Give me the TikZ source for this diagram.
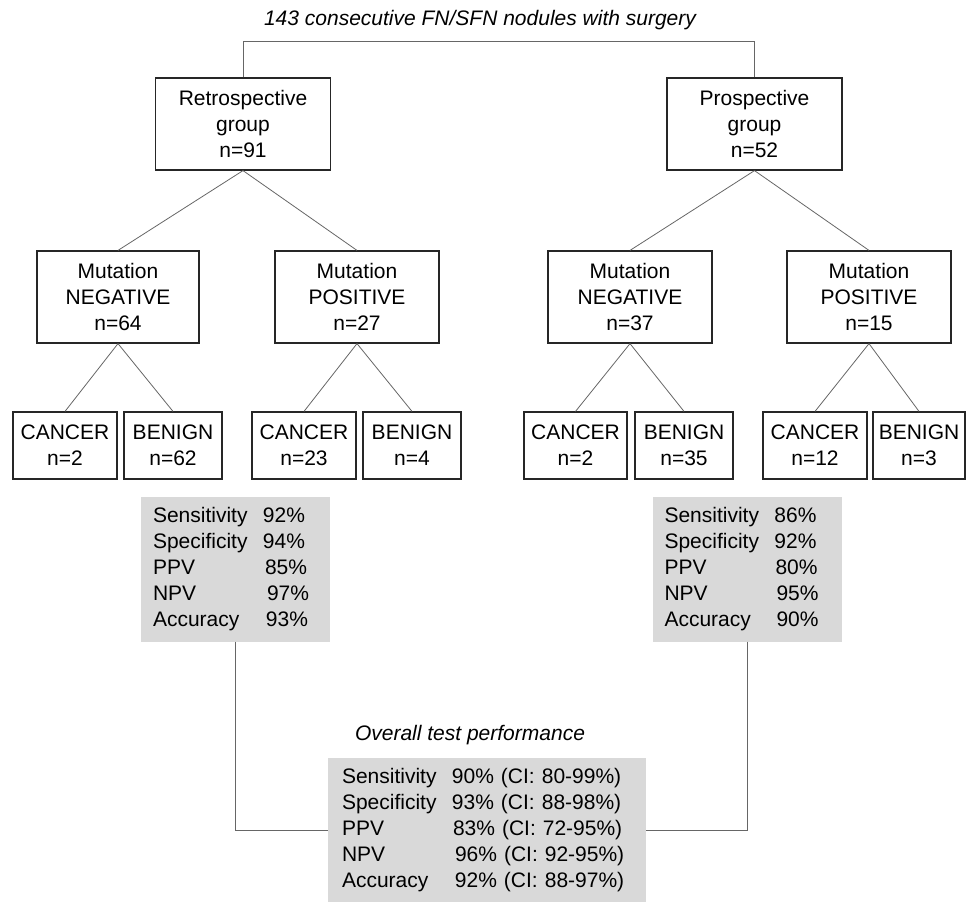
\documentclass[tikz,border=0pt]{standalone}
\usepackage{fontspec}
\setmainfont{Liberation Sans}
\usepackage{xcolor}
\usepackage{tikz}
\usetikzlibrary{positioning}

\newcommand{\srow}[2]{\makebox[110pt][l]{#1}#2}

\begin{document}
\begin{tikzpicture}[
  x=1pt, y=-1pt,
  font=\fontsize{21}{26}\selectfont,
  bx/.style={draw=black!85, line width=1.2pt, align=center, inner sep=0pt, minimum height=92pt},
  lf/.style={bx, minimum height=67pt},
  sb/.style={fill=black!15, align=left, inner xsep=12pt, inner ysep=0pt, text width=165pt, minimum height=145pt},
  ln/.style={draw=black!60, line width=0.8pt}
]
  \useasboundingbox (0,0) rectangle (966,902);
  \node[font=\fontsize{21}{26}\selectfont\itshape] (ttl) at (480,20) {143 consecutive FN/SFN nodules with surgery};
  \node[bx, minimum width=175pt] (retro) at (243,124) {Retrospective\\group\\n=91};
  \node[bx, minimum width=175pt] (prosp) at (754.5,124) {Prospective\\group\\n=52};
  \node[bx, minimum width=162pt] (neg1) at (118,297) {Mutation\\NEGATIVE\\n=64};
  \node[bx, minimum width=164pt] (pos1) at (357,297) {Mutation\\POSITIVE\\n=27};
  \node[bx, minimum width=164pt] (neg2) at (630,297) {Mutation\\NEGATIVE\\n=37};
  \node[bx, minimum width=164pt] (pos2) at (869,297) {Mutation\\POSITIVE\\n=15};
  \node[lf, minimum width=104pt] (c1) at (65,445.5) {CANCER\\n=2};
  \node[lf, minimum width=98pt] (b1) at (173,445.5) {BENIGN\\n=62};
  \node[lf, minimum width=104pt] (c2) at (304,445.5) {CANCER\\n=23};
  \node[lf, minimum width=98pt] (b2) at (412,445.5) {BENIGN\\n=4};
  \node[lf, minimum width=103pt] (c3) at (575.5,445.5) {CANCER\\n=2};
  \node[lf, minimum width=98pt] (b3) at (684,445.5) {BENIGN\\n=35};
  \node[lf, minimum width=104pt] (c4) at (815,445.5) {CANCER\\n=12};
  \node[lf, minimum width=92pt] (b4) at (919,445.5) {BENIGN\\n=3};
  \node[sb] (statl) at (235.5,569) {\srow{Sensitivity}{92\%}\\\srow{Specificity}{94\%}\\\srow{PPV}{\hspace{2pt}85\%}\\\srow{NPV}{\hspace{4pt}97\%}\\\srow{Accuracy}{\hspace{3pt}93\%}};
  \node[sb] (statr) at (747,569) {\srow{Sensitivity}{86\%}\\\srow{Specificity}{92\%}\\\srow{PPV}{\hspace{1pt}80\%}\\\srow{NPV}{\hspace{2pt}95\%}\\\srow{Accuracy}{\hspace{2pt}90\%}};
  \node[font=\fontsize{21}{26}\selectfont\itshape] (ovl) at (470,735) {Overall test performance};
  \node[sb, inner xsep=14pt, text width=290pt, minimum height=144pt] (all) at (487,830) {\srow{Sensitivity}{90\% (CI: 80-99\%)}\\\srow{Specificity}{93\% (CI: 88-98\%)}\\\srow{PPV}{\hspace{1pt}83\% (CI: 72-95\%)}\\\srow{NPV}{\hspace{3pt}96\% (CI: 92-95\%)}\\\srow{Accuracy}{\hspace{3pt}92\% (CI: 88-97\%)}};
  % tree lines
  \draw[ln] (retro.north) -- ++(0,-36) -| (prosp.north);
  \draw[ln] (retro.south) -- (neg1.north);
  \draw[ln] (retro.south) -- (pos1.north);
  \draw[ln] (prosp.south) -- (neg2.north);
  \draw[ln] (prosp.south) -- (pos2.north);
  \draw[ln] (neg1.south) -- (c1.north);
  \draw[ln] (neg1.south) -- (b1.north);
  \draw[ln] (pos1.south) -- (c2.north);
  \draw[ln] (pos1.south) -- (b2.north);
  \draw[ln] (neg2.south) -- (c3.north);
  \draw[ln] (neg2.south) -- (b3.north);
  \draw[ln] (pos2.south) -- (c4.north);
  \draw[ln] (pos2.south) -- (b4.north);
  % to overall
  \draw[ln] (statl.south) |- (all.west);
  \draw[ln] (statr.south) |- (all.east);
\end{tikzpicture}
\end{document}
